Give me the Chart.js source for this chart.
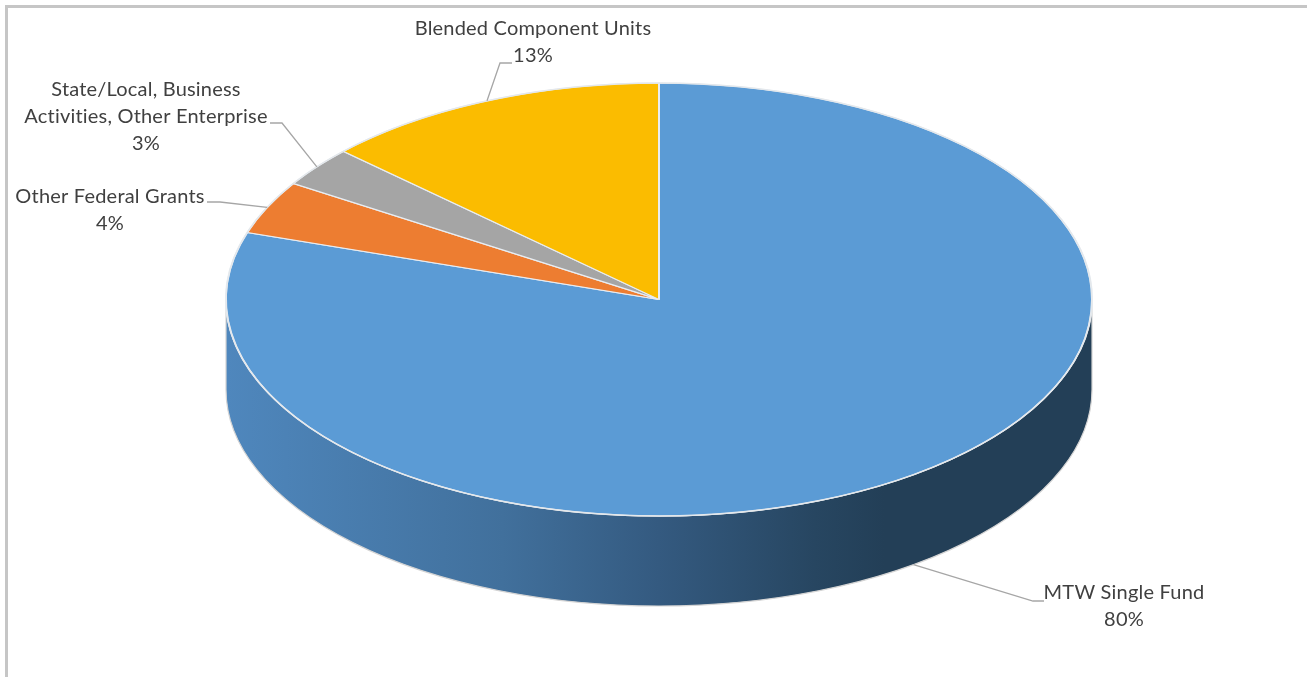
<!DOCTYPE html>
<html>
<head>
<meta charset="utf-8">
<title>Funding sources</title>
<script src="https://cdn.jsdelivr.net/npm/chart.js@4/dist/chart.umd.min.js"></script>
<style>
    html, body { margin: 0; padding: 0; background: #fff; overflow: hidden; }
    .frame {
        position: absolute; left: 5px; top: 5px; right: 0; bottom: 0;
        border-top: 3px solid #c6c6c6; border-left: 3px solid #c6c6c6;
    }
    #pie { position: absolute; left: 0; top: 0; }
</style>
</head>
<body>
<div class="frame"></div>
<canvas id="pie" width="1307" height="677"></canvas>
<script>
const categories = [
    ['MTW Single Fund'],
    ['Other Federal Grants'],
    ['State/Local, Business', 'Activities, Other Enterprise'],
    ['Blended Component Units']
];
const shares = [80, 4, 3, 13];
const sliceColors = ['#5b9bd5', '#ed7d31', '#a5a5a5', '#fbbc00'];

// text block centre and the elbow of each leader line, same order as categories
const labelSpots = [
    { x: 1124, y: 593, elbowX: 1033, elbowY: 601, tailX: 1044 },
    { x: 110, y: 197, elbowX: 220, elbowY: 202, tailX: 207 },
    { x: 146, y: 90, elbowX: 282, elbowY: 123, tailX: 270 },
    { x: 533, y: 29, elbowX: 500, elbowY: 63, tailX: 512 }
];

const TILT = 0.5;
const DEPTH = 90;

// squashes the flat pie into an ellipse and puts the side wall under it
const tiltedPie = {
    id: 'tiltedPie',
    beforeDatasetsDraw(chart) {
        const { ctx } = chart;
        const arc = chart.getDatasetMeta(0).data[0];
        const rx = arc.outerRadius;
        const ry = rx * TILT;

        const wall = ctx.createLinearGradient(arc.x - rx, 0, arc.x + rx, 0);
        wall.addColorStop(0, '#4f87bd');
        wall.addColorStop(0.32, '#41709c');
        wall.addColorStop(0.5, '#345a80');
        wall.addColorStop(0.68, '#274661');
        wall.addColorStop(0.76, '#233f57');
        wall.addColorStop(1, '#233f57');

        ctx.save();
        ctx.beginPath();
        ctx.ellipse(arc.x, arc.y, rx, ry, 0, Math.PI, 0, true);
        ctx.ellipse(arc.x, arc.y + DEPTH, rx, ry, 0, 0, Math.PI);
        ctx.closePath();
        ctx.fillStyle = wall;
        ctx.fill();
        ctx.strokeStyle = '#d4d4d4';
        ctx.lineWidth = 1.2;
        ctx.stroke();
        ctx.restore();

        ctx.save();
        ctx.translate(arc.x, arc.y);
        ctx.scale(1, TILT);
        ctx.translate(-arc.x, -arc.y);
    },
    afterDatasetsDraw(chart) {
        const { ctx } = chart;
        ctx.restore();

        const arc = chart.getDatasetMeta(0).data[0];
        ctx.save();
        ctx.beginPath();
        ctx.ellipse(arc.x, arc.y, arc.outerRadius, arc.outerRadius * TILT, 0, 0, Math.PI * 2);
        ctx.strokeStyle = '#e4e8ec';
        ctx.lineWidth = 1.4;
        ctx.stroke();
        ctx.restore();
    }
};

// category name, percentage and leader line for every slice
const sliceLabels = {
    id: 'sliceLabels',
    afterDraw(chart) {
        const { ctx } = chart;
        const meta = chart.getDatasetMeta(0);
        const values = chart.data.datasets[0].data;

        ctx.save();
        meta.data.forEach((arc, i) => {
            const spot = labelSpots[i];
            const mid = (arc.startAngle + arc.endAngle) / 2;
            const ax = arc.x + Math.cos(mid) * arc.outerRadius;
            let ay = arc.y + Math.sin(mid) * arc.outerRadius * TILT;
            if (Math.sin(mid) > 0) ay += DEPTH;

            ctx.beginPath();
            ctx.moveTo(ax, ay);
            ctx.lineTo(spot.elbowX, spot.elbowY);
            ctx.lineTo(spot.tailX, spot.elbowY);
            ctx.strokeStyle = '#a6a6a6';
            ctx.lineWidth = 1.3;
            ctx.stroke();

            const lines = [...chart.data.labels[i], `${values[i]}%`];
            ctx.font = '20px Lato, sans-serif';
            ctx.letterSpacing = '0.2px';
            ctx.fillStyle = '#404040';
            ctx.textAlign = 'center';
            ctx.textBaseline = 'middle';
            lines.forEach((line, n) => ctx.fillText(line, spot.x, spot.y + n * 27));
        });
        ctx.restore();
    }
};

new Chart(document.getElementById('pie'), {
    type: 'pie',
    data: {
        labels: categories,
        datasets: [{
            data: shares,
            backgroundColor: sliceColors,
            borderColor: '#e8edf2',
            borderWidth: 2,
            radius: 433,
            clip: false
        }]
    },
    options: {
        responsive: false,
        devicePixelRatio: 1,
        animation: false,
        events: [],
        layout: { padding: { left: 11, bottom: 78 } },
        plugins: { legend: { display: false }, tooltip: { enabled: false } }
    },
    plugins: [tiltedPie, sliceLabels]
});
</script>
</body>
</html>
